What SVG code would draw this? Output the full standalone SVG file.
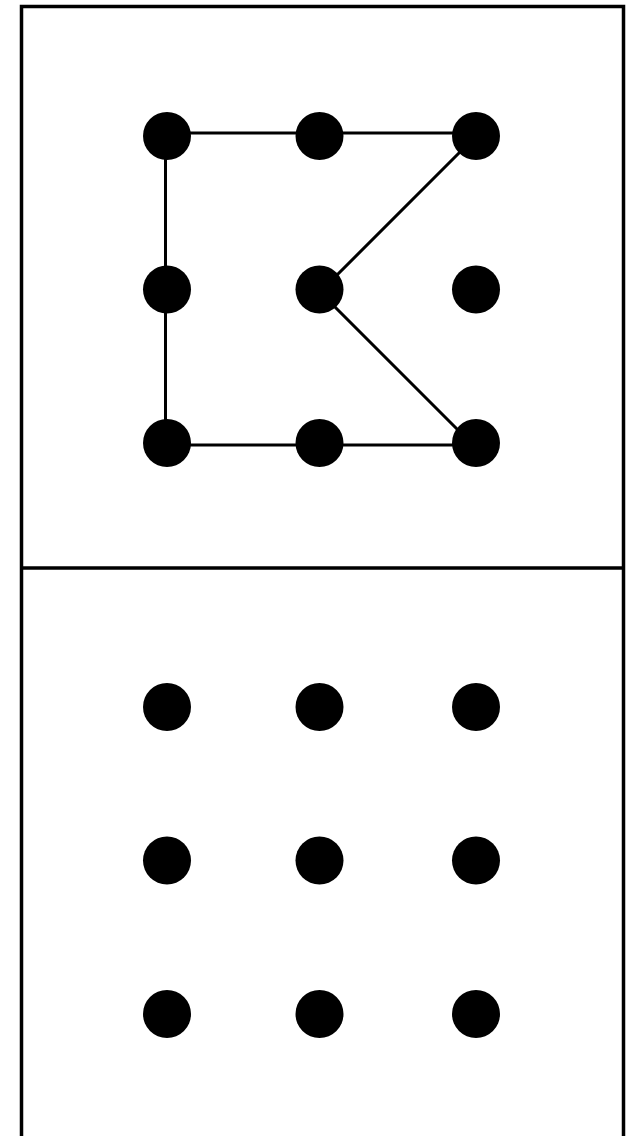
<svg xmlns="http://www.w3.org/2000/svg" width="631" height="1136" viewBox="0 0 631 1136">
  <style>
    .frame { fill: none; stroke: #000; stroke-width: 3.5; }
    .dot { fill: #000; }
    .edge { fill: none; stroke: #000; stroke-width: 3; stroke-linejoin: miter; }
  </style>
  <rect width="631" height="1136" fill="#fff"/>
  <g id="frame">
    <rect class="frame" x="21.5" y="6.5" width="602" height="1150"/>
    <line class="frame" x1="21.5" y1="568" x2="623.5" y2="568"/>
  </g>
  <g id="connectors">
    <polyline class="edge" points="477,135 320,292 473,445"/>
    <polyline class="edge" points="476,133 165.5,133 165.5,445 476,445"/>
  </g>
  <g id="top-grid">
    <circle id="t1" class="dot" cx="167" cy="136" r="24"/>
    <circle id="t2" class="dot" cx="319.5" cy="136" r="24"/>
    <circle id="t3" class="dot" cx="476" cy="136" r="24"/>
    <circle id="t4" class="dot" cx="167" cy="289.5" r="24"/>
    <circle id="t5" class="dot" cx="319.5" cy="289.5" r="24"/>
    <circle id="t6" class="dot" cx="476" cy="289.5" r="24"/>
    <circle id="t7" class="dot" cx="167" cy="443" r="24"/>
    <circle id="t8" class="dot" cx="319.5" cy="443" r="24"/>
    <circle id="t9" class="dot" cx="476" cy="443" r="24"/>
  </g>
  <g id="bottom-grid">
    <circle id="b1" class="dot" cx="167" cy="707" r="24"/>
    <circle id="b2" class="dot" cx="319.5" cy="707" r="24"/>
    <circle id="b3" class="dot" cx="476" cy="707" r="24"/>
    <circle id="b4" class="dot" cx="167" cy="860.5" r="24"/>
    <circle id="b5" class="dot" cx="319.5" cy="860.5" r="24"/>
    <circle id="b6" class="dot" cx="476" cy="860.5" r="24"/>
    <circle id="b7" class="dot" cx="167" cy="1014" r="24"/>
    <circle id="b8" class="dot" cx="319.5" cy="1014" r="24"/>
    <circle id="b9" class="dot" cx="476" cy="1014" r="24"/>
  </g>
</svg>
